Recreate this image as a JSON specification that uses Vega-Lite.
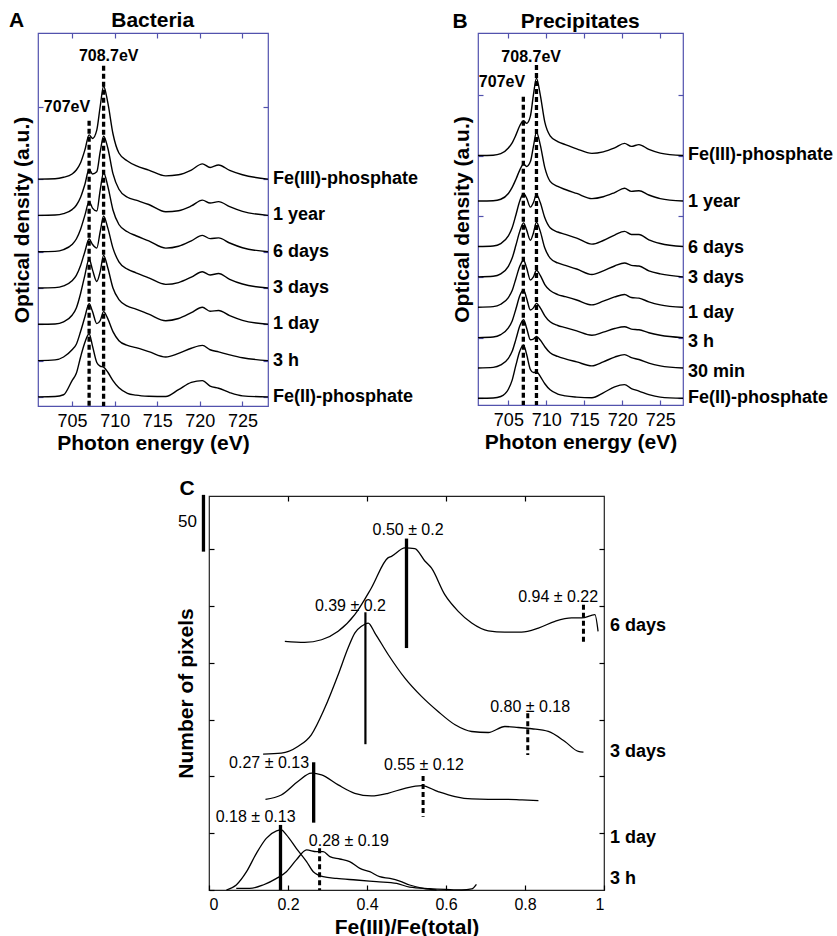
{
"$schema": "https://vega.github.io/schema/vega-lite/v6.json",
"padding": {"left": 8, "top": 9, "right": 0, "bottom": 0},
"background": "white",
"spacing": 22,
"config": {
  "font": "Liberation Sans",
  "view": {"stroke": null},
  "axis": {"domain": false, "grid": false, "tickSize": -5, "tickWidth": 1.2, "labelFontSize": 18, "labelColor": "black", "titleFontSize": 21, "titleFontWeight": "bold", "titleColor": "black", "labelFont": "Liberation Sans", "titleFont": "Liberation Sans"}
},
"datasets": {
"A": [
{"s":"FeIII","e":701,"v":6},{"s":"FeIII","e":703,"v":6.01},{"s":"FeIII","e":704,"v":6.05},{"s":"FeIII","e":705,"v":6.14},{"s":"FeIII","e":705.5,"v":6.25},{"s":"FeIII","e":706,"v":6.45},{"s":"FeIII","e":706.5,"v":6.8},{"s":"FeIII","e":707,"v":7.22},{"s":"FeIII","e":707.4,"v":7.12},{"s":"FeIII","e":707.9,"v":7.35},{"s":"FeIII","e":708.3,"v":8.0},{"s":"FeIII","e":708.7,"v":8.56},{"s":"FeIII","e":709.2,"v":8.1},{"s":"FeIII","e":709.8,"v":7.25},{"s":"FeIII","e":710.5,"v":6.72},{"s":"FeIII","e":711.5,"v":6.5},{"s":"FeIII","e":712.5,"v":6.37},{"s":"FeIII","e":714,"v":6.25},{"s":"FeIII","e":716,"v":6.09},{"s":"FeIII","e":717.5,"v":6.12},{"s":"FeIII","e":719,"v":6.25},{"s":"FeIII","e":720.3,"v":6.42},{"s":"FeIII","e":721.2,"v":6.32},{"s":"FeIII","e":722.2,"v":6.39},{"s":"FeIII","e":723.5,"v":6.24},{"s":"FeIII","e":725,"v":6.12},{"s":"FeIII","e":728,"v":6},
{"s":"y1","e":701,"v":5},{"s":"y1","e":703,"v":5.01},{"s":"y1","e":704,"v":5.05},{"s":"y1","e":705,"v":5.16},{"s":"y1","e":705.5,"v":5.28},{"s":"y1","e":706,"v":5.5},{"s":"y1","e":706.5,"v":5.85},{"s":"y1","e":707,"v":6.27},{"s":"y1","e":707.4,"v":6.14},{"s":"y1","e":707.9,"v":6.2},{"s":"y1","e":708.3,"v":6.75},{"s":"y1","e":708.7,"v":7.18},{"s":"y1","e":709.2,"v":6.85},{"s":"y1","e":709.8,"v":6.15},{"s":"y1","e":710.5,"v":5.72},{"s":"y1","e":711.5,"v":5.5},{"s":"y1","e":712.5,"v":5.42},{"s":"y1","e":714,"v":5.3},{"s":"y1","e":716,"v":5.1},{"s":"y1","e":717.5,"v":5.13},{"s":"y1","e":719,"v":5.26},{"s":"y1","e":720.3,"v":5.42},{"s":"y1","e":721.2,"v":5.34},{"s":"y1","e":722.2,"v":5.38},{"s":"y1","e":723.5,"v":5.24},{"s":"y1","e":725,"v":5.11},{"s":"y1","e":728,"v":5},
{"s":"d6","e":701,"v":4},{"s":"d6","e":703,"v":4.01},{"s":"d6","e":704,"v":4.06},{"s":"d6","e":705,"v":4.2},{"s":"d6","e":705.5,"v":4.35},{"s":"d6","e":706,"v":4.62},{"s":"d6","e":706.5,"v":5.0},{"s":"d6","e":707,"v":5.38},{"s":"d6","e":707.4,"v":5.2},{"s":"d6","e":707.9,"v":5.12},{"s":"d6","e":708.3,"v":5.7},{"s":"d6","e":708.7,"v":6.18},{"s":"d6","e":709.2,"v":5.8},{"s":"d6","e":709.8,"v":5.15},{"s":"d6","e":710.5,"v":4.75},{"s":"d6","e":711.5,"v":4.55},{"s":"d6","e":712.5,"v":4.44},{"s":"d6","e":714,"v":4.3},{"s":"d6","e":716,"v":4.1},{"s":"d6","e":717.5,"v":4.15},{"s":"d6","e":719,"v":4.3},{"s":"d6","e":720.3,"v":4.45},{"s":"d6","e":721.2,"v":4.36},{"s":"d6","e":722.2,"v":4.38},{"s":"d6","e":723.5,"v":4.24},{"s":"d6","e":725,"v":4.11},{"s":"d6","e":728,"v":4},
{"s":"d3","e":701,"v":3},{"s":"d3","e":703,"v":3.01},{"s":"d3","e":704,"v":3.06},{"s":"d3","e":705,"v":3.2},{"s":"d3","e":705.5,"v":3.35},{"s":"d3","e":706,"v":3.62},{"s":"d3","e":706.5,"v":4.0},{"s":"d3","e":707,"v":4.35},{"s":"d3","e":707.4,"v":4.2},{"s":"d3","e":707.9,"v":4.1},{"s":"d3","e":708.3,"v":4.55},{"s":"d3","e":708.7,"v":4.98},{"s":"d3","e":709.2,"v":4.65},{"s":"d3","e":709.8,"v":4.1},{"s":"d3","e":710.5,"v":3.72},{"s":"d3","e":711.5,"v":3.52},{"s":"d3","e":712.5,"v":3.42},{"s":"d3","e":714,"v":3.28},{"s":"d3","e":716,"v":3.1},{"s":"d3","e":717.5,"v":3.15},{"s":"d3","e":719,"v":3.3},{"s":"d3","e":720.3,"v":3.45},{"s":"d3","e":721.2,"v":3.36},{"s":"d3","e":722.2,"v":3.4},{"s":"d3","e":723.5,"v":3.24},{"s":"d3","e":725,"v":3.11},{"s":"d3","e":728,"v":3},
{"s":"d1","e":701,"v":2},{"s":"d1","e":703,"v":2.01},{"s":"d1","e":704,"v":2.07},{"s":"d1","e":705,"v":2.25},{"s":"d1","e":705.5,"v":2.45},{"s":"d1","e":706,"v":2.85},{"s":"d1","e":706.5,"v":3.35},{"s":"d1","e":707,"v":3.8},{"s":"d1","e":707.4,"v":3.5},{"s":"d1","e":707.9,"v":3.18},{"s":"d1","e":708.3,"v":3.45},{"s":"d1","e":708.7,"v":3.9},{"s":"d1","e":709.2,"v":3.55},{"s":"d1","e":709.8,"v":3.0},{"s":"d1","e":710.5,"v":2.68},{"s":"d1","e":711.5,"v":2.5},{"s":"d1","e":712.5,"v":2.42},{"s":"d1","e":714,"v":2.28},{"s":"d1","e":716,"v":2.1},{"s":"d1","e":717.5,"v":2.16},{"s":"d1","e":719,"v":2.32},{"s":"d1","e":720.3,"v":2.47},{"s":"d1","e":721.2,"v":2.36},{"s":"d1","e":722.2,"v":2.38},{"s":"d1","e":723.5,"v":2.24},{"s":"d1","e":725,"v":2.11},{"s":"d1","e":728,"v":2},
{"s":"h3","e":701,"v":1},{"s":"h3","e":703,"v":1.02},{"s":"h3","e":704,"v":1.1},{"s":"h3","e":705,"v":1.3},{"s":"h3","e":705.5,"v":1.45},{"s":"h3","e":706,"v":1.8},{"s":"h3","e":706.5,"v":2.2},{"s":"h3","e":707,"v":2.57},{"s":"h3","e":707.4,"v":2.35},{"s":"h3","e":707.9,"v":2.02},{"s":"h3","e":708.3,"v":2.1},{"s":"h3","e":708.7,"v":2.35},{"s":"h3","e":709.2,"v":2.15},{"s":"h3","e":709.8,"v":1.8},{"s":"h3","e":710.5,"v":1.55},{"s":"h3","e":711.5,"v":1.42},{"s":"h3","e":712.5,"v":1.36},{"s":"h3","e":714,"v":1.25},{"s":"h3","e":716,"v":1.1},{"s":"h3","e":717.5,"v":1.2},{"s":"h3","e":719,"v":1.34},{"s":"h3","e":720.3,"v":1.42},{"s":"h3","e":721.2,"v":1.3},{"s":"h3","e":722.2,"v":1.24},{"s":"h3","e":723.5,"v":1.16},{"s":"h3","e":725,"v":1.08},{"s":"h3","e":728,"v":1},
{"s":"FeII","e":701,"v":0},{"s":"FeII","e":703,"v":0.01},{"s":"FeII","e":704,"v":0.06},{"s":"FeII","e":705,"v":0.45},{"s":"FeII","e":705.5,"v":0.65},{"s":"FeII","e":706,"v":1.1},{"s":"FeII","e":706.5,"v":1.5},{"s":"FeII","e":707,"v":1.74},{"s":"FeII","e":707.4,"v":1.4},{"s":"FeII","e":707.9,"v":0.95},{"s":"FeII","e":708.3,"v":0.85},{"s":"FeII","e":708.7,"v":0.82},{"s":"FeII","e":709.2,"v":0.68},{"s":"FeII","e":709.8,"v":0.45},{"s":"FeII","e":710.5,"v":0.25},{"s":"FeII","e":711.5,"v":0.1},{"s":"FeII","e":712.5,"v":0.05},{"s":"FeII","e":714,"v":0.02},{"s":"FeII","e":716,"v":0.01},{"s":"FeII","e":717.5,"v":0.2},{"s":"FeII","e":719,"v":0.4},{"s":"FeII","e":720.3,"v":0.45},{"s":"FeII","e":721.2,"v":0.3},{"s":"FeII","e":722.2,"v":0.24},{"s":"FeII","e":723.5,"v":0.12},{"s":"FeII","e":725,"v":0.03},{"s":"FeII","e":728,"v":0}
],
"B": [
{"s":"FeIII","e":701,"v":8},{"s":"FeIII","e":703,"v":8.01},{"s":"FeIII","e":704,"v":8.06},{"s":"FeIII","e":705,"v":8.25},{"s":"FeIII","e":705.5,"v":8.42},{"s":"FeIII","e":706,"v":8.68},{"s":"FeIII","e":706.5,"v":8.98},{"s":"FeIII","e":707,"v":9.15},{"s":"FeIII","e":707.4,"v":9.06},{"s":"FeIII","e":707.9,"v":9.3},{"s":"FeIII","e":708.3,"v":10.0},{"s":"FeIII","e":708.7,"v":10.55},{"s":"FeIII","e":709.2,"v":10.0},{"s":"FeIII","e":709.8,"v":9.1},{"s":"FeIII","e":710.5,"v":8.65},{"s":"FeIII","e":711.5,"v":8.46},{"s":"FeIII","e":712.5,"v":8.36},{"s":"FeIII","e":714,"v":8.22},{"s":"FeIII","e":716,"v":8.07},{"s":"FeIII","e":717.5,"v":8.12},{"s":"FeIII","e":719,"v":8.25},{"s":"FeIII","e":720.3,"v":8.4},{"s":"FeIII","e":721.2,"v":8.3},{"s":"FeIII","e":722.2,"v":8.36},{"s":"FeIII","e":723.5,"v":8.2},{"s":"FeIII","e":725,"v":8.08},{"s":"FeIII","e":728,"v":8},
{"s":"y1","e":701,"v":6.5},{"s":"y1","e":703,"v":6.51},{"s":"y1","e":704,"v":6.56},{"s":"y1","e":705,"v":6.75},{"s":"y1","e":705.5,"v":6.95},{"s":"y1","e":706,"v":7.22},{"s":"y1","e":706.5,"v":7.52},{"s":"y1","e":707,"v":7.72},{"s":"y1","e":707.4,"v":7.64},{"s":"y1","e":707.9,"v":7.8},{"s":"y1","e":708.3,"v":8.3},{"s":"y1","e":708.7,"v":8.77},{"s":"y1","e":709.2,"v":8.35},{"s":"y1","e":709.8,"v":7.6},{"s":"y1","e":710.5,"v":7.15},{"s":"y1","e":711.5,"v":6.98},{"s":"y1","e":712.5,"v":6.88},{"s":"y1","e":714,"v":6.75},{"s":"y1","e":716,"v":6.58},{"s":"y1","e":717.5,"v":6.64},{"s":"y1","e":719,"v":6.78},{"s":"y1","e":720.3,"v":6.92},{"s":"y1","e":721.2,"v":6.82},{"s":"y1","e":722.2,"v":6.84},{"s":"y1","e":723.5,"v":6.7},{"s":"y1","e":725,"v":6.58},{"s":"y1","e":728,"v":6.5},
{"s":"d6","e":701,"v":5},{"s":"d6","e":703,"v":5.02},{"s":"d6","e":704,"v":5.1},{"s":"d6","e":705,"v":5.35},{"s":"d6","e":705.5,"v":5.62},{"s":"d6","e":706,"v":6.05},{"s":"d6","e":706.5,"v":6.5},{"s":"d6","e":707,"v":6.75},{"s":"d6","e":707.4,"v":6.6},{"s":"d6","e":707.9,"v":6.3},{"s":"d6","e":708.3,"v":6.45},{"s":"d6","e":708.7,"v":6.72},{"s":"d6","e":709.2,"v":6.45},{"s":"d6","e":709.8,"v":5.95},{"s":"d6","e":710.5,"v":5.62},{"s":"d6","e":711.5,"v":5.48},{"s":"d6","e":712.5,"v":5.4},{"s":"d6","e":714,"v":5.28},{"s":"d6","e":716,"v":5.08},{"s":"d6","e":717.5,"v":5.2},{"s":"d6","e":719,"v":5.38},{"s":"d6","e":720.3,"v":5.5},{"s":"d6","e":721.2,"v":5.4},{"s":"d6","e":722.2,"v":5.4},{"s":"d6","e":723.5,"v":5.22},{"s":"d6","e":725,"v":5.1},{"s":"d6","e":728,"v":5},
{"s":"d3","e":701,"v":4},{"s":"d3","e":703,"v":4.02},{"s":"d3","e":704,"v":4.1},{"s":"d3","e":705,"v":4.35},{"s":"d3","e":705.5,"v":4.62},{"s":"d3","e":706,"v":5.05},{"s":"d3","e":706.5,"v":5.5},{"s":"d3","e":707,"v":5.78},{"s":"d3","e":707.4,"v":5.55},{"s":"d3","e":707.9,"v":5.21},{"s":"d3","e":708.3,"v":5.45},{"s":"d3","e":708.7,"v":5.8},{"s":"d3","e":709.2,"v":5.5},{"s":"d3","e":709.8,"v":4.95},{"s":"d3","e":710.5,"v":4.62},{"s":"d3","e":711.5,"v":4.46},{"s":"d3","e":712.5,"v":4.38},{"s":"d3","e":714,"v":4.26},{"s":"d3","e":716,"v":4.08},{"s":"d3","e":717.5,"v":4.2},{"s":"d3","e":719,"v":4.36},{"s":"d3","e":720.3,"v":4.46},{"s":"d3","e":721.2,"v":4.38},{"s":"d3","e":722.2,"v":4.36},{"s":"d3","e":723.5,"v":4.2},{"s":"d3","e":725,"v":4.1},{"s":"d3","e":728,"v":4},
{"s":"d1","e":701,"v":3},{"s":"d1","e":703,"v":3.02},{"s":"d1","e":704,"v":3.1},{"s":"d1","e":705,"v":3.32},{"s":"d1","e":705.5,"v":3.55},{"s":"d1","e":706,"v":3.95},{"s":"d1","e":706.5,"v":4.35},{"s":"d1","e":707,"v":4.55},{"s":"d1","e":707.4,"v":4.3},{"s":"d1","e":707.9,"v":3.9},{"s":"d1","e":708.3,"v":4.0},{"s":"d1","e":708.7,"v":4.22},{"s":"d1","e":709.2,"v":4.05},{"s":"d1","e":709.8,"v":3.75},{"s":"d1","e":710.5,"v":3.55},{"s":"d1","e":711.5,"v":3.42},{"s":"d1","e":712.5,"v":3.35},{"s":"d1","e":714,"v":3.24},{"s":"d1","e":716,"v":3.08},{"s":"d1","e":717.5,"v":3.2},{"s":"d1","e":719,"v":3.34},{"s":"d1","e":720.3,"v":3.42},{"s":"d1","e":721.2,"v":3.32},{"s":"d1","e":722.2,"v":3.3},{"s":"d1","e":723.5,"v":3.18},{"s":"d1","e":725,"v":3.08},{"s":"d1","e":728,"v":3},
{"s":"h3","e":701,"v":2},{"s":"h3","e":703,"v":2.02},{"s":"h3","e":704,"v":2.1},{"s":"h3","e":705,"v":2.32},{"s":"h3","e":705.5,"v":2.55},{"s":"h3","e":706,"v":2.95},{"s":"h3","e":706.5,"v":3.38},{"s":"h3","e":707,"v":3.57},{"s":"h3","e":707.4,"v":3.3},{"s":"h3","e":707.9,"v":2.91},{"s":"h3","e":708.3,"v":2.98},{"s":"h3","e":708.7,"v":3.13},{"s":"h3","e":709.2,"v":2.98},{"s":"h3","e":709.8,"v":2.72},{"s":"h3","e":710.5,"v":2.52},{"s":"h3","e":711.5,"v":2.4},{"s":"h3","e":712.5,"v":2.33},{"s":"h3","e":714,"v":2.22},{"s":"h3","e":716,"v":2.08},{"s":"h3","e":717.5,"v":2.18},{"s":"h3","e":719,"v":2.3},{"s":"h3","e":720.3,"v":2.36},{"s":"h3","e":721.2,"v":2.28},{"s":"h3","e":722.2,"v":2.26},{"s":"h3","e":723.5,"v":2.16},{"s":"h3","e":725,"v":2.08},{"s":"h3","e":728,"v":2},
{"s":"m30","e":701,"v":1},{"s":"m30","e":703,"v":1.02},{"s":"m30","e":704,"v":1.1},{"s":"m30","e":705,"v":1.32},{"s":"m30","e":705.5,"v":1.55},{"s":"m30","e":706,"v":1.95},{"s":"m30","e":706.5,"v":2.38},{"s":"m30","e":707,"v":2.59},{"s":"m30","e":707.4,"v":2.32},{"s":"m30","e":707.9,"v":1.93},{"s":"m30","e":708.3,"v":1.95},{"s":"m30","e":708.7,"v":2.04},{"s":"m30","e":709.2,"v":1.92},{"s":"m30","e":709.8,"v":1.7},{"s":"m30","e":710.5,"v":1.5},{"s":"m30","e":711.5,"v":1.38},{"s":"m30","e":712.5,"v":1.3},{"s":"m30","e":714,"v":1.2},{"s":"m30","e":716,"v":1.07},{"s":"m30","e":717.5,"v":1.2},{"s":"m30","e":719,"v":1.36},{"s":"m30","e":720.3,"v":1.44},{"s":"m30","e":721.2,"v":1.34},{"s":"m30","e":722.2,"v":1.28},{"s":"m30","e":723.5,"v":1.16},{"s":"m30","e":725,"v":1.07},{"s":"m30","e":728,"v":1},
{"s":"FeII","e":701,"v":0},{"s":"FeII","e":703,"v":0.01},{"s":"FeII","e":704,"v":0.06},{"s":"FeII","e":705,"v":0.3},{"s":"FeII","e":705.5,"v":0.6},{"s":"FeII","e":706,"v":1.1},{"s":"FeII","e":706.5,"v":1.55},{"s":"FeII","e":707,"v":1.76},{"s":"FeII","e":707.4,"v":1.45},{"s":"FeII","e":707.9,"v":0.95},{"s":"FeII","e":708.3,"v":0.85},{"s":"FeII","e":708.7,"v":0.88},{"s":"FeII","e":709.2,"v":0.72},{"s":"FeII","e":709.8,"v":0.48},{"s":"FeII","e":710.5,"v":0.28},{"s":"FeII","e":711.5,"v":0.14},{"s":"FeII","e":712.5,"v":0.08},{"s":"FeII","e":714,"v":0.04},{"s":"FeII","e":716,"v":0.02},{"s":"FeII","e":717.5,"v":0.18},{"s":"FeII","e":719,"v":0.38},{"s":"FeII","e":720.3,"v":0.45},{"s":"FeII","e":721.2,"v":0.32},{"s":"FeII","e":722.2,"v":0.24},{"s":"FeII","e":723.5,"v":0.12},{"s":"FeII","e":725,"v":0.04},{"s":"FeII","e":728,"v":0}
],
"C": [
{"s":"d6","f":0.192,"n":219.0},{"s":"d6","f":0.242,"n":218.1},{"s":"d6","f":0.285,"n":220.4},{"s":"d6","f":0.327,"n":227.8},{"s":"d6","f":0.369,"n":242.5},{"s":"d6","f":0.411,"n":266.0},{"s":"d6","f":0.453,"n":292.5},{"s":"d6","f":0.462,"n":293.9},{"s":"d6","f":0.496,"n":301.3},{"s":"d6","f":0.521,"n":300.7},{"s":"d6","f":0.547,"n":289.5},{"s":"d6","f":0.563,"n":283.6},{"s":"d6","f":0.597,"n":260.1},{"s":"d6","f":0.631,"n":245.4},{"s":"d6","f":0.665,"n":235.1},{"s":"d6","f":0.707,"n":228.3},{"s":"d6","f":0.749,"n":227.2},{"s":"d6","f":0.791,"n":227.2},{"s":"d6","f":0.834,"n":230.7},{"s":"d6","f":0.876,"n":236.6},{"s":"d6","f":0.918,"n":239.6},{"s":"d6","f":0.944,"n":239.6},{"s":"d6","f":0.977,"n":242.5},{"s":"d6","f":0.985,"n":227.8},
{"s":"d3","f":0.137,"n":119.6},{"s":"d3","f":0.183,"n":120.5},{"s":"d3","f":0.225,"n":126.4},{"s":"d3","f":0.259,"n":136.7},{"s":"d3","f":0.293,"n":160.2},{"s":"d3","f":0.327,"n":189.6},{"s":"d3","f":0.352,"n":213.1},{"s":"d3","f":0.369,"n":226.3},{"s":"d3","f":0.386,"n":232.2},{"s":"d3","f":0.403,"n":235.1},{"s":"d3","f":0.42,"n":226.3},{"s":"d3","f":0.454,"n":207.2},{"s":"d3","f":0.496,"n":186.6},{"s":"d3","f":0.538,"n":170.5},{"s":"d3","f":0.58,"n":157.2},{"s":"d3","f":0.623,"n":145.5},{"s":"d3","f":0.665,"n":139.6},{"s":"d3","f":0.707,"n":138.7},{"s":"d3","f":0.749,"n":144.0},{"s":"d3","f":0.783,"n":143.1},{"s":"d3","f":0.817,"n":142.0},{"s":"d3","f":0.859,"n":139.6},{"s":"d3","f":0.901,"n":130.8},{"s":"d3","f":0.935,"n":122.0},{"s":"d3","f":0.948,"n":121.4},
{"s":"d1","f":0.143,"n":79.9},{"s":"d1","f":0.183,"n":83.7},{"s":"d1","f":0.225,"n":95.5},{"s":"d1","f":0.259,"n":102.9},{"s":"d1","f":0.285,"n":101.4},{"s":"d1","f":0.327,"n":92.6},{"s":"d1","f":0.369,"n":85.2},{"s":"d1","f":0.411,"n":82.9},{"s":"d1","f":0.453,"n":85.2},{"s":"d1","f":0.496,"n":89.6},{"s":"d1","f":0.538,"n":92.0},{"s":"d1","f":0.58,"n":86.7},{"s":"d1","f":0.623,"n":82.3},{"s":"d1","f":0.665,"n":80.2},{"s":"d1","f":0.707,"n":79.9},{"s":"d1","f":0.749,"n":79.9},{"s":"d1","f":0.791,"n":79.4},{"s":"d1","f":0.834,"n":78.8},
{"s":"b1","f":0.044,"n":0},{"s":"b1","f":0.069,"n":4.4},{"s":"b1","f":0.095,"n":16.1},{"s":"b1","f":0.12,"n":32.3},{"s":"b1","f":0.145,"n":45.5},{"s":"b1","f":0.171,"n":52.0},{"s":"b1","f":0.183,"n":52.9},{"s":"b1","f":0.196,"n":48.5},{"s":"b1","f":0.221,"n":36.7},{"s":"b1","f":0.247,"n":25.0},{"s":"b1","f":0.264,"n":16.1},{"s":"b1","f":0.289,"n":11.7},{"s":"b1","f":0.323,"n":10.2},{"s":"b1","f":0.373,"n":8.8},{"s":"b1","f":0.424,"n":7.3},{"s":"b1","f":0.475,"n":5.8},{"s":"b1","f":0.508,"n":2.5},{"s":"b1","f":0.559,"n":1.2},{"s":"b1","f":0.6,"n":0.5},{"s":"b1","f":0.64,"n":0},{"s":"b1","f":0.665,"n":0.9},{"s":"b1","f":0.677,"n":5.0},
{"s":"b2","f":0.069,"n":1.4},{"s":"b2","f":0.103,"n":1.4},{"s":"b2","f":0.137,"n":4.4},{"s":"b2","f":0.171,"n":10.2},{"s":"b2","f":0.196,"n":16.1},{"s":"b2","f":0.221,"n":26.5},{"s":"b2","f":0.247,"n":35.3},{"s":"b2","f":0.272,"n":33.8},{"s":"b2","f":0.289,"n":33.8},{"s":"b2","f":0.306,"n":29.4},{"s":"b2","f":0.331,"n":27.3},{"s":"b2","f":0.356,"n":25.0},{"s":"b2","f":0.382,"n":19.0},{"s":"b2","f":0.407,"n":16.1},{"s":"b2","f":0.432,"n":11.7},{"s":"b2","f":0.458,"n":10.2},{"s":"b2","f":0.483,"n":7.9},{"s":"b2","f":0.508,"n":4.4},{"s":"b2","f":0.542,"n":1.4},{"s":"b2","f":0.576,"n":0}
],
"Cr": [
{"f": 0.5, "n": 309.5, "n2": 213.1, "k": "solid"},
{"f": 0.948, "n": 251.3, "n2": 216.0, "k": "dashed"},
{"f": 0.396, "n": 244.6, "n2": 128.4, "k": "thin"},
{"f": 0.807, "n": 155.7, "n2": 119.0, "k": "dashed"},
{"f": 0.265, "n": 112.5, "n2": 59.3, "k": "solid"},
{"f": 0.542, "n": 100.5, "n2": 64.6, "k": "dashed"},
{"f": 0.181, "n": 57.3, "n2": 0, "k": "solid"},
{"f": 0.28, "n": 36.7, "n2": 0, "k": "dashed"},
{"f": -0.014, "n": 348, "n2": 298, "k": "solid"}
]
},
"vconcat": [
{
"hconcat": [
{
  "width": 230, "height": 373,
  "view": {"stroke": "#5252ad", "strokeWidth": 1.2},
  "layer": [
    {"data": {"name": "A"},
     "mark": {"type": "line", "color": "black", "strokeWidth": 1.4, "interpolate": "monotone"},
     "encoding": {
       "x": {"field": "e", "type": "quantitative", "scale": {"domain": [701, 728], "nice": false, "zero": false},
             "axis": {"orient": "bottom", "values": [705, 710, 715, 720, 725], "title": "Photon energy (eV)", "tickColor": "#5252ad", "labelPadding": 11, "titlePadding": 2}},
       "y": {"field": "v", "type": "quantitative", "scale": {"domain": [-0.25, 10.025], "nice": false, "zero": false},
             "axis": {"orient": "left", "values": [0, 1, 2, 3, 4, 5, 6, 8], "labels": false, "title": "Optical density (a.u.)", "tickColor": "#5252ad", "titlePadding": 5}},
       "detail": {"field": "s"}}},
    {"data": {"values": [{"e": 707, "v": 7.61, "v2": -0.25}, {"e": 708.7, "v": 9.12, "v2": -0.25}]},
     "mark": {"type": "rule", "color": "black", "strokeWidth": 3.3, "strokeDash": [5, 3]},
     "encoding": {
       "x": {"field": "e", "type": "quantitative", "axis": {"orient": "top", "values": [705, 710, 715, 720, 725], "labels": false, "title": null, "tickColor": "#5252ad"}},
       "y": {"field": "v", "type": "quantitative", "axis": {"orient": "right", "values": [0, 1, 2, 3, 4, 5, 6, 8], "labels": false, "title": null, "tickColor": "#5252ad"}},
       "y2": {"field": "v2"}}},
    {"data": {"values": [{"t": "Fe(III)-phosphate", "v": 6}, {"t": "1 year", "v": 5}, {"t": "6 days", "v": 4}, {"t": "3 days", "v": 3}, {"t": "1 day", "v": 2}, {"t": "3 h", "v": 1}, {"t": "Fe(II)-phosphate", "v": 0}]},
     "mark": {"type": "text", "align": "left", "baseline": "middle", "dx": 5, "fontSize": 18, "fontWeight": "bold", "color": "black"},
     "encoding": {"x": {"datum": 728, "type": "quantitative", "axis": null}, "y": {"field": "v", "type": "quantitative", "axis": null}, "text": {"field": "t"}}},
    {"data": {"values": [{"t": "707eV", "e": 704.4, "v": 7.99}, {"t": "708.7eV", "e": 709.3, "v": 9.39}]},
     "mark": {"type": "text", "align": "center", "baseline": "middle", "fontSize": 16, "fontWeight": "bold", "color": "black"},
     "encoding": {"x": {"field": "e", "type": "quantitative", "axis": null}, "y": {"field": "v", "type": "quantitative", "axis": null}, "text": {"field": "t"}}},
    {"data": {"values": [{"t": "Bacteria", "e": 714.46, "v": 10.18}]},
     "mark": {"type": "text", "align": "center", "baseline": "alphabetic", "fontSize": 21, "fontWeight": "bold", "color": "black"},
     "encoding": {"x": {"field": "e", "type": "quantitative", "axis": null}, "y": {"field": "v", "type": "quantitative", "axis": null}, "text": {"field": "t"}}},
    {"data": {"values": [{"t": "A", "e": 697.6, "v": 10.18}]},
     "mark": {"type": "text", "align": "left", "baseline": "alphabetic", "fontSize": 21, "fontWeight": "bold", "color": "black"},
     "encoding": {"x": {"field": "e", "type": "quantitative", "axis": null}, "y": {"field": "v", "type": "quantitative", "axis": null}, "text": {"field": "t"}}}
  ],
  "resolve": {"axis": {"x": "independent", "y": "independent"}}
},
{
  "width": 205, "height": 372,
  "view": {"stroke": "#5252ad", "strokeWidth": 1.2},
  "layer": [
    {"data": {"name": "B"},
     "mark": {"type": "line", "color": "black", "strokeWidth": 1.4, "interpolate": "monotone"},
     "encoding": {
       "x": {"field": "e", "type": "quantitative", "scale": {"domain": [701, 728], "nice": false, "zero": false},
             "axis": {"orient": "bottom", "values": [705, 710, 715, 720, 725], "title": "Photon energy (eV)", "tickColor": "#5252ad", "labelPadding": 11, "titlePadding": 2}},
       "y": {"field": "v", "type": "quantitative", "scale": {"domain": [-0.22, 12.037], "nice": false, "zero": false},
             "axis": {"orient": "left", "values": [0, 2, 4, 6, 8, 10], "labels": false, "title": "Optical density (a.u.)", "tickColor": "#5252ad", "titlePadding": 5}},
       "detail": {"field": "s"}}},
    {"data": {"values": [{"e": 706.97, "v": 9.94, "v2": -0.22}, {"e": 708.7, "v": 10.98, "v2": -0.22}]},
     "mark": {"type": "rule", "color": "black", "strokeWidth": 3.3, "strokeDash": [5, 3]},
     "encoding": {
       "x": {"field": "e", "type": "quantitative", "axis": {"orient": "top", "values": [705, 710, 715, 720, 725], "labels": false, "title": null, "tickColor": "#5252ad"}},
       "y": {"field": "v", "type": "quantitative", "axis": {"orient": "right", "values": [0, 2, 4, 6, 8, 10], "labels": false, "title": null, "tickColor": "#5252ad"}},
       "y2": {"field": "v2"}}},
    {"data": {"values": [{"t": "Fe(III)-phosphate", "v": 8.02}, {"t": "1 year", "v": 6.48}, {"t": "6 days", "v": 4.94}, {"t": "3 days", "v": 3.95}, {"t": "1 day", "v": 2.8}, {"t": "3 h", "v": 1.87}, {"t": "30 min", "v": 0.88}, {"t": "Fe(II)-phosphate", "v": 0}]},
     "mark": {"type": "text", "align": "left", "baseline": "middle", "dx": 5, "fontSize": 18, "fontWeight": "bold", "color": "black"},
     "encoding": {"x": {"datum": 728, "type": "quantitative", "axis": null}, "y": {"field": "v", "type": "quantitative", "axis": null}, "text": {"field": "t"}}},
    {"data": {"values": [{"t": "707eV", "e": 704.16, "v": 10.43}, {"t": "708.7eV", "e": 708.0, "v": 11.26}]},
     "mark": {"type": "text", "align": "center", "baseline": "middle", "fontSize": 16, "fontWeight": "bold", "color": "black"},
     "encoding": {"x": {"field": "e", "type": "quantitative", "axis": null}, "y": {"field": "v", "type": "quantitative", "axis": null}, "text": {"field": "t"}}},
    {"data": {"values": [{"t": "Precipitates", "e": 714.47, "v": 12.19}]},
     "mark": {"type": "text", "align": "center", "baseline": "alphabetic", "fontSize": 21, "fontWeight": "bold", "color": "black"},
     "encoding": {"x": {"field": "e", "type": "quantitative", "axis": null}, "y": {"field": "v", "type": "quantitative", "axis": null}, "text": {"field": "t"}}},
    {"data": {"values": [{"t": "B", "e": 697.63, "v": 12.19}]},
     "mark": {"type": "text", "align": "left", "baseline": "alphabetic", "fontSize": 21, "fontWeight": "bold", "color": "black"},
     "encoding": {"x": {"field": "e", "type": "quantitative", "axis": null}, "y": {"field": "v", "type": "quantitative", "axis": null}, "text": {"field": "t"}}}
  ],
  "resolve": {"axis": {"x": "independent", "y": "independent"}}
}
],
"spacing": 210,
"bounds": "flush"
},
{
"hconcat": [
{"width": 171, "height": 394, "data": {"values": [{"k": 0}]}, "mark": {"type": "text", "text": ""}},
{
  "width": 395, "height": 394,
  "view": {"stroke": "#222222", "strokeWidth": 1.2},
  "layer": [
    {"data": {"name": "C"},
     "mark": {"type": "line", "color": "black", "strokeWidth": 1.3, "interpolate": "monotone"},
     "encoding": {
       "x": {"field": "f", "type": "quantitative", "scale": {"domain": [0, 1], "nice": false, "zero": false},
             "axis": {"orient": "bottom", "values": [0, 0.2, 0.4, 0.6, 0.8, 1], "format": "~g", "labelFontSize": 16, "title": "Fe(III)/Fe(total)", "tickColor": "black", "labelPadding": 11, "titlePadding": 4}},
       "y": {"field": "n", "type": "quantitative", "scale": {"domain": [0, 347], "nice": false, "zero": false},
             "axis": {"orient": "left", "values": [0, 50, 100, 150, 200, 250, 300], "labels": false, "title": "Number of pixels", "tickColor": "black", "titlePadding": 12}},
       "detail": {"field": "s"}}},
    {"data": {"name": "Cr"},
     "transform": [{"filter": "datum.k == 'solid'"}],
     "mark": {"type": "rule", "color": "black", "strokeWidth": 3.3},
     "encoding": {
       "x": {"field": "f", "type": "quantitative", "axis": {"orient": "top", "values": [0.2, 0.4, 0.6, 0.8], "labels": false, "title": null, "tickColor": "black"}},
       "y": {"field": "n", "type": "quantitative", "axis": {"orient": "right", "values": [50, 100, 150, 200, 250, 300], "labels": false, "title": null, "tickColor": "black"}},
       "y2": {"field": "n2"}}},
    {"data": {"name": "Cr"},
     "transform": [{"filter": "datum.k == 'thin'"}],
     "mark": {"type": "rule", "color": "black", "strokeWidth": 2.2},
     "encoding": {
       "x": {"field": "f", "type": "quantitative", "axis": null},
       "y": {"field": "n", "type": "quantitative", "axis": null},
       "y2": {"field": "n2"}}},
    {"data": {"name": "Cr"},
     "transform": [{"filter": "datum.k == 'dashed'"}],
     "mark": {"type": "rule", "color": "black", "strokeWidth": 3, "strokeDash": [5, 3]},
     "encoding": {
       "x": {"field": "f", "type": "quantitative", "axis": null},
       "y": {"field": "n", "type": "quantitative", "axis": null},
       "y2": {"field": "n2"}}},
    {"data": {"values": [
       {"t": "0.50 ± 0.2", "f": 0.504, "n": 317.4},
       {"t": "0.94 ± 0.22", "f": 0.884, "n": 258.0},
       {"t": "0.39 ± 0.2", "f": 0.358, "n": 249.8},
       {"t": "0.80 ± 0.18", "f": 0.813, "n": 161.6},
       {"t": "0.27 ± 0.13", "f": 0.152, "n": 111.6},
       {"t": "0.55 ± 0.12", "f": 0.544, "n": 110.2},
       {"t": "0.18 ± 0.13", "f": 0.118, "n": 64.6},
       {"t": "0.28 ± 0.19", "f": 0.354, "n": 43.5}]},
     "mark": {"type": "text", "align": "center", "baseline": "middle", "fontSize": 16, "color": "black"},
     "encoding": {"x": {"field": "f", "type": "quantitative", "axis": null}, "y": {"field": "n", "type": "quantitative", "axis": null}, "text": {"field": "t"}}},
    {"data": {"values": [{"t": "6 days", "n": 232.2}, {"t": "3 days", "n": 121.3}, {"t": "1 day", "n": 45.5}, {"t": "3 h", "n": 9.3}]},
     "mark": {"type": "text", "align": "left", "baseline": "middle", "dx": 6, "fontSize": 18, "fontWeight": "bold", "color": "black"},
     "encoding": {"x": {"datum": 1, "type": "quantitative", "axis": null}, "y": {"field": "n", "type": "quantitative", "axis": null}, "text": {"field": "t"}}},
    {"data": {"values": [{"t": "50", "f": -0.0786, "n": 319.5}]},
     "mark": {"type": "text", "align": "left", "baseline": "alphabetic", "fontSize": 17, "color": "black"},
     "encoding": {"x": {"field": "f", "type": "quantitative", "axis": null}, "y": {"field": "n", "type": "quantitative", "axis": null}, "text": {"field": "t"}}},
    {"data": {"values": [{"t": "C", "f": -0.0745, "n": 348.3}]},
     "mark": {"type": "text", "align": "left", "baseline": "alphabetic", "fontSize": 21, "fontWeight": "bold", "color": "black"},
     "encoding": {"x": {"field": "f", "type": "quantitative", "axis": null}, "y": {"field": "n", "type": "quantitative", "axis": null}, "text": {"field": "t"}}}
  ],
  "resolve": {"axis": {"x": "independent", "y": "independent"}}
}
],
"spacing": 0,
"bounds": "flush"
}
]
}
